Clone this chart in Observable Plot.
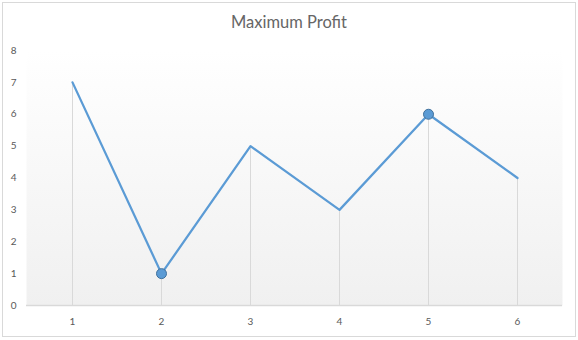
<!DOCTYPE html>
<html>
<head>
<meta charset="utf-8">
<script src="https://cdn.jsdelivr.net/npm/d3@7"></script>
<script src="https://cdn.jsdelivr.net/npm/@observablehq/plot@0.6"></script>
<style>
  html, body { margin: 0; padding: 0; background: #fff; }
  #chart { position: relative; width: 578px; height: 340px; overflow: hidden; font-family: Lato, "Open Sans", sans-serif; }
  #frame { position: absolute; left: 2px; top: 2px; width: 572px; height: 333px; border: 1px solid #d9d9d9; box-sizing: content-box; pointer-events: none; }
  #title { position: absolute; left: 0; top: 12px; width: 578px; text-align: center; font-size: 16.5px; color: #666666; }
  #plot { position: absolute; left: 0; top: 0; }
</style>
</head>
<body>
<div id="chart">
  <div id="plot"></div>
  <div id="frame"></div>
  <div id="title">Maximum Profit</div>
</div>
<script>
// Daily prices; buy on the lowest day, sell on the best later day
const days = [1, 2, 3, 4, 5, 6];
const prices = [7, 1, 5, 3, 6, 4];
const tradeDays = [2, 5];
const yTicks = [0, 1, 2, 3, 4, 5, 6, 7, 8];

const series = days.map((d, i) => ({day: d, price: prices[i]}));
const trades = series.filter(d => tradeDays.includes(d.day));

const lineColor = "#5b9bd5";
const gridColor = "#d9d9d9";
const textColor = "#595959";

const chart = Plot.plot({
  width: 578,
  height: 340,
  marginTop: 50,
  marginBottom: 35,
  marginLeft: 26,
  marginRight: 16,
  style: {fontFamily: "Lato, 'Open Sans', sans-serif", fontSize: "10px", color: textColor, background: "transparent"},
  x: {type: "point", domain: days, padding: 0.5},
  y: {domain: [0, 8]},
  marks: [
    Plot.frame({fill: "url(#plotBg)", stroke: "none"}),
    Plot.ruleX(series, {x: "day", y1: 0, y2: "price", stroke: gridColor, strokeWidth: 1}),
    Plot.ruleY([0], {stroke: gridColor, strokeWidth: 1.5}),
    Plot.axisX({tickSize: 0, tickPadding: 12, label: null, fill: textColor}),
    Plot.axisY({ticks: yTicks, tickSize: 0, tickPadding: 10, label: null, fill: textColor}),
    Plot.line(series, {x: "day", y: "price", stroke: lineColor, strokeWidth: 2.25, strokeLinejoin: "round"}),
    Plot.dot(trades, {x: "day", y: "price", r: 5, fill: lineColor, stroke: "#41719c", strokeWidth: 1})
  ]
});

// Soft vertical gradient behind the plot area
const svg = d3.select(chart);
const grad = svg.insert("defs", ":first-child")
  .append("linearGradient")
  .attr("id", "plotBg")
  .attr("x1", 0).attr("y1", 0).attr("x2", 0).attr("y2", 1);
grad.append("stop").attr("offset", "0%").attr("stop-color", "#ffffff");
grad.append("stop").attr("offset", "100%").attr("stop-color", "#f0f0f0");

document.getElementById("plot").appendChild(chart);
</script>
</body>
</html>
